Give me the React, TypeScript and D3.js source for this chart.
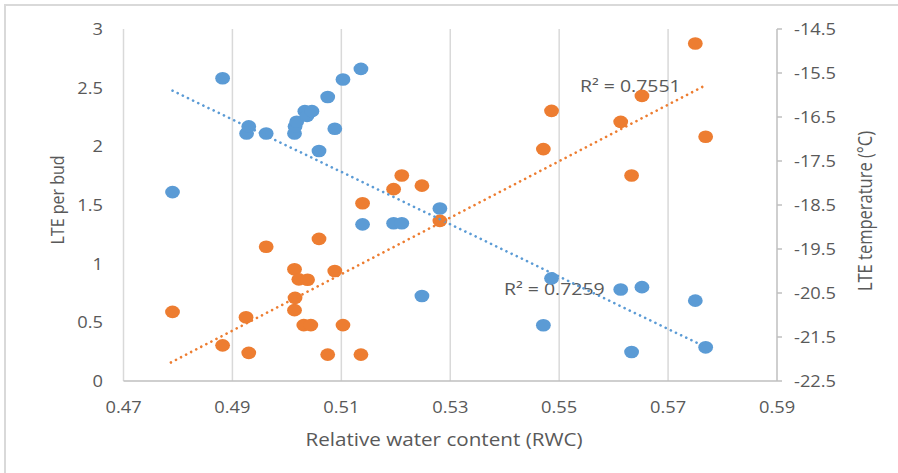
import React, { useRef, useEffect } from 'react';
import * as d3 from 'd3';

// LTE per bud (primary axis, blue)
const rwcBud = [0.479, 0.4882, 0.4926, 0.493, 0.4962, 0.5014, 0.5015, 0.5018, 0.5033, 0.5037, 0.5046, 0.5059, 0.5075, 0.5088, 0.5103, 0.5136, 0.5139, 0.5196, 0.5211, 0.5248, 0.5281, 0.5471, 0.5486, 0.5613, 0.5633, 0.5652, 0.575, 0.5769];
const ltePerBud = [1.61, 2.58, 2.11, 2.17, 2.11, 2.11, 2.17, 2.21, 2.3, 2.26, 2.3, 1.96, 2.42, 2.15, 2.57, 2.66, 1.335, 1.344, 1.344, 0.725, 1.47, 0.475, 0.875, 0.78, 0.247, 0.8, 0.685, 0.287];

// LTE temperature (secondary axis, orange)
const rwcTemp = [0.479, 0.4882, 0.4925, 0.493, 0.4962, 0.5014, 0.5015, 0.5014, 0.5022, 0.5038, 0.5031, 0.5044, 0.5059, 0.5075, 0.5088, 0.5103, 0.5136, 0.5139, 0.5196, 0.5211, 0.5248, 0.5281, 0.5471, 0.5486, 0.5613, 0.5633, 0.5652, 0.575, 0.5769];
const lteTemp = [-20.93, -21.69, -21.05, -21.86, -19.45, -19.96, -20.61, -20.89, -20.19, -20.2, -21.23, -21.23, -19.27, -21.9, -20.0, -21.23, -21.9, -18.46, -18.14, -17.83, -18.06, -18.86, -17.23, -16.36, -16.61, -17.83, -16.02, -14.83, -16.95];

// linear trendlines as drawn in the source (end points)
const trendBudX = [0.479, 0.5766];
const trendBudY = [2.474, 0.296];
const trendTempX = [0.4787, 0.5764];
const trendTempY = [-22.08, -15.81];

const xTicks = [0.47, 0.49, 0.51, 0.53, 0.55, 0.57, 0.59];
const leftTicks = [0, 0.5, 1, 1.5, 2, 2.5, 3];
const rightTicks = [-22.5, -21.5, -20.5, -19.5, -18.5, -17.5, -16.5, -15.5, -14.5];
const r2Labels = ['R² = 0.7551', 'R² = 0.7259'];

const W = 898;
const H = 473;
const plot = { left: 123.5, right: 777, top: 29, bottom: 381 };
const BLUE = '#5B9BD5';
const ORANGE = '#ED7D31';
const TEXT = '#595959';
const FONT = "'Open Sans', 'DejaVu Sans', sans-serif";
const SX = 1.18; // source picture is a bit wider than tall

const App = () => {
  const svgRef = useRef(null);

  useEffect(() => {
    const svg = d3.select(svgRef.current);
    svg.selectAll('*').remove();

    const x = d3.scaleLinear().domain([0.47, 0.59]).range([plot.left, plot.right]);
    const yL = d3.scaleLinear().domain([0, 3]).range([plot.bottom, plot.top]);
    const yR = d3.scaleLinear().domain([-22.5, -14.5]).range([plot.bottom, plot.top]);

    const label = (g, tx, ty, txt, opts = {}) => g.append('text')
      .attr('transform', `translate(${tx},${ty}) scale(${SX},1)${opts.rot ? ' rotate(-90)' : ''}`)
      .attr('text-anchor', opts.anchor || 'middle')
      .attr('dominant-baseline', 'central')
      .attr('fill', TEXT)
      .style('font-family', FONT)
      .style('font-size', `${opts.size || 15.5}px`)
      .text(txt);

    // outer frame
    svg.append('rect')
      .attr('x', 5).attr('y', 5)
      .attr('width', W + 20).attr('height', H + 20)
      .attr('fill', '#fff')
      .attr('stroke', '#D9D9D9')
      .attr('stroke-width', 2);

    // vertical gridlines
    svg.append('g')
      .selectAll('line')
      .data(xTicks.slice(0, -1))
      .join('line')
      .attr('x1', d => x(d)).attr('x2', d => x(d))
      .attr('y1', plot.top).attr('y2', plot.bottom)
      .attr('stroke', '#D9D9D9')
      .attr('stroke-width', 1.5);

    // x axis line
    svg.append('line')
      .attr('x1', plot.left).attr('x2', plot.right)
      .attr('y1', plot.bottom).attr('y2', plot.bottom)
      .attr('stroke', '#BFBFBF').attr('stroke-width', 1.5);

    // secondary axis line + outward ticks
    svg.append('line')
      .attr('x1', plot.right).attr('x2', plot.right)
      .attr('y1', plot.top).attr('y2', plot.bottom)
      .attr('stroke', '#BFBFBF').attr('stroke-width', 1.5);
    svg.append('g')
      .selectAll('line')
      .data(rightTicks)
      .join('line')
      .attr('x1', plot.right).attr('x2', plot.right + 5)
      .attr('y1', d => yR(d)).attr('y2', d => yR(d))
      .attr('stroke', '#BFBFBF').attr('stroke-width', 1.5);

    const labels = svg.append('g');
    xTicks.forEach(t => label(labels, x(t), 407, t.toFixed(2)));
    leftTicks.forEach(t => label(labels, 103, yL(t), String(t), { anchor: 'end' }));
    rightTicks.forEach(t => label(labels, 794, yR(t), t.toFixed(1), { anchor: 'start' }));

    label(labels, 444, 440, 'Relative water content (RWC)', { size: 17.5 });
    label(labels, 56, 200, 'LTE per bud', { rot: true, size: 16 });
    label(labels, 864, 211, 'LTE temperature (°C)', { rot: true, size: 16.5 });

    // markers
    const budPts = rwcBud.map((v, i) => ({ x: v, y: ltePerBud[i] }));
    const tempPts = rwcTemp.map((v, i) => ({ x: v, y: lteTemp[i] }));

    svg.append('g')
      .selectAll('ellipse')
      .data(budPts)
      .join('ellipse')
      .attr('cx', d => x(d.x)).attr('cy', d => yL(d.y))
      .attr('rx', 7.4).attr('ry', 6.3)
      .attr('fill', BLUE);

    svg.append('g')
      .selectAll('ellipse')
      .data(tempPts)
      .join('ellipse')
      .attr('cx', d => x(d.x)).attr('cy', d => yR(d.y))
      .attr('rx', 7.4).attr('ry', 6.3)
      .attr('fill', ORANGE);

    // trendlines
    const trend = (xs, ys, yScale, color) => svg.append('path')
      .datum(xs.map((v, i) => ({ x: v, y: ys[i] })))
      .attr('fill', 'none')
      .attr('stroke', color)
      .attr('stroke-width', 2.6)
      .attr('stroke-linecap', 'round')
      .attr('stroke-dasharray', '0.1 5.6')
      .attr('d', d3.line().x(d => x(d.x)).y(d => yScale(d.y)));

    trend(trendBudX, trendBudY, yL, BLUE);
    trend(trendTempX, trendTempY, yR, ORANGE);

    label(labels, 580, 86, r2Labels[0], { anchor: 'start', size: 16.5 });
    label(labels, 504, 289, r2Labels[1], { anchor: 'start', size: 16.5 });
  }, []);

  return (
    <>
      <style>{`body { margin: 0; background: #fff; }`}</style>
      <svg ref={svgRef} width={W} height={H} style={{ display: 'block' }}></svg>
    </>
  );
};

export default App;
